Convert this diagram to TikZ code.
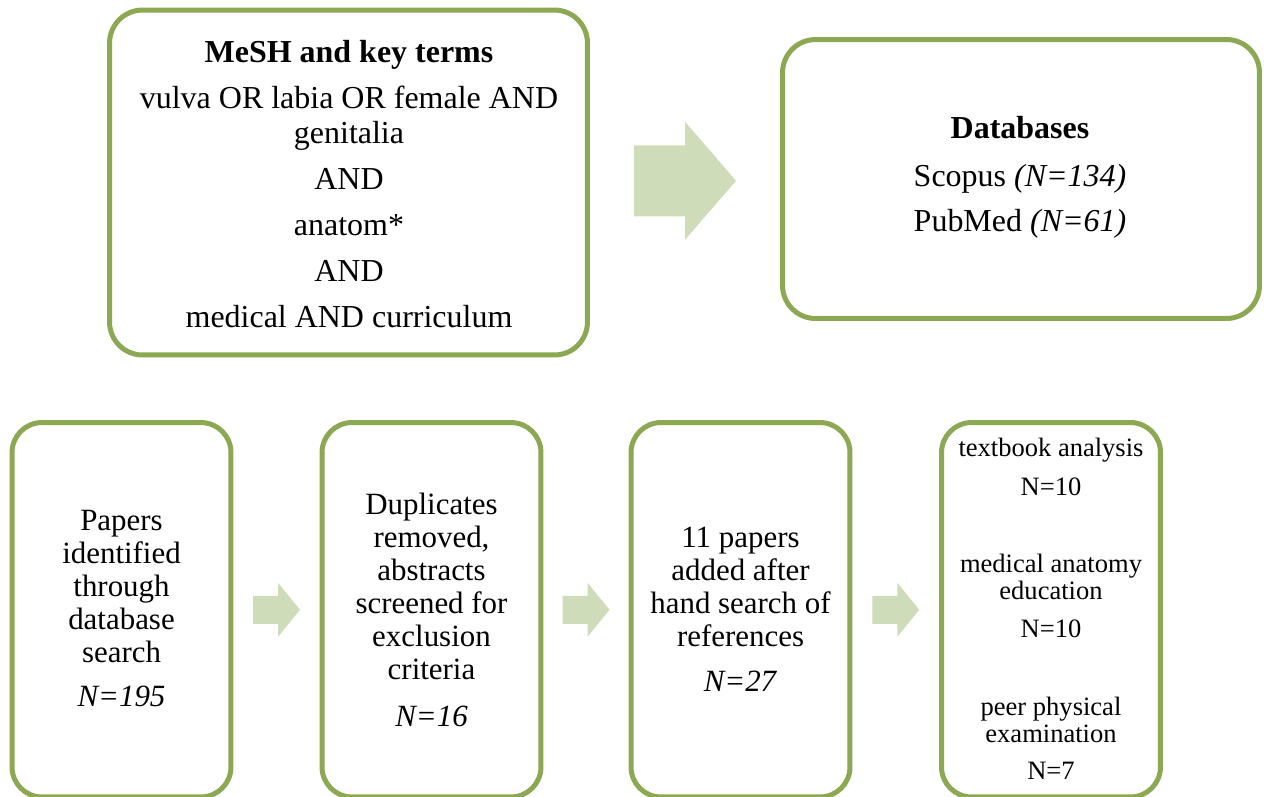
\documentclass[tikz,border=0pt]{standalone}
\usepackage{fontspec}
\setmainfont{Liberation Serif}
\usetikzlibrary{calc,positioning}
\definecolor{boxgreen}{HTML}{8CA853}
\definecolor{arrowgreen}{HTML}{CEDCB9}

\begin{document}
\begin{tikzpicture}[x = {(0.02cm,0cm)},
                    y = {(0cm,-0.02cm)}]
% styles of boxes, texts and arrows
\tikzset{searchbox/.style={draw=boxgreen,line width=0.1cm,rounded corners=0.66cm},
         stagebox/.style={draw=boxgreen,line width=0.1cm,rounded corners=0.6cm,
                          minimum width=4.38cm,minimum height=7.49cm},
         bigtext/.style={align=center,inner sep=0pt,font=\fontsize{18.2}{19.9}\selectfont},
         stagetext/.style={align=center,inner sep=0pt,font=\fontsize{17.6}{18.8}\selectfont},
         smalltext/.style={align=center,inner sep=0pt,font=\fontsize{15.1}{15.4}\selectfont},
         blockarrow/.style={fill=arrowgreen}}
\useasboundingbox (0,0) rectangle (1264,796);
\clip (0,0) rectangle (1264,796);
% search boxes "up"
\node[searchbox,minimum width=9.56cm,minimum height=6.9cm]  (terms)     at (348.5,182.5) {};
\node[searchbox,minimum width=9.54cm,minimum height=5.58cm] (databases) at (1021,179)    {};
% stage boxes "down"
\node[stagebox] (found)    at (121.5,609.75) {};
\node[stagebox] (screened) at (431.5,609.75) {};
\node[stagebox] (hand)     at (740.5,609.75) {};
\node[stagebox] (final)    at (1051,609.75)  {};
% texts
\node[bigtext] (termstext) at (349,184)
  {\textbf{MeSH and key terms}\\[0.22cm]
   vulva OR labia OR female AND\\
   genitalia\\[0.22cm]
   AND\\[0.22cm]
   anatom*\\[0.22cm]
   AND\\[0.22cm]
   medical AND curriculum};
\node[bigtext] (databasestext) at (1020,177.5)
  {\textbf{Databases}\\[0.26cm]
   Scopus \textit{(N=134)}\\[0.2cm]
   PubMed \textit{(N=61)}};
\node[stagetext] (foundtext) at (121.5,608.5)
  {Papers\\identified\\through\\database\\search\\[0.22cm]\textit{N=195}};
\node[stagetext] (screenedtext) at (431.5,609.5)
  {Duplicates\\removed,\\abstracts\\screened for\\exclusion\\criteria\\[0.28cm]\textit{N=16}};
\node[stagetext] (handtext) at (740.5,609)
  {11 papers\\added after\\hand search of\\references\\[0.24cm]\textit{N=27}};
\node[smalltext] (textbook)   at (1051,466.5) {textbook analysis\\[0.24cm]N=10};
\node[smalltext] (anatomyedu) at (1051,595.5) {medical anatomy\\education\\[0.22cm]N=10};
\node[smalltext] (peerexam)   at (1051,738)   {peer physical\\examination\\[0.2cm]N=7};
% arrows
\fill[blockarrow,shift={($(terms.east)!0.5!(databases.west)$)}]
  (-51,-35.5) -- (0,-35.5) -- (0,-59) -- (51,0) -- (0,59) -- (0,35.5) -- (-51,35.5) -- cycle;
\foreach \from/\to in {found/screened,screened/hand,hand/final}
  \fill[blockarrow,shift={($(\from.east)!0.5!(\to.west)$)}]
    (-23.5,-14) -- (1.5,-14) -- (1.5,-27) -- (23.5,0) -- (1.5,27) -- (1.5,14) -- (-23.5,14) -- cycle;
\end{tikzpicture}
\end{document}
